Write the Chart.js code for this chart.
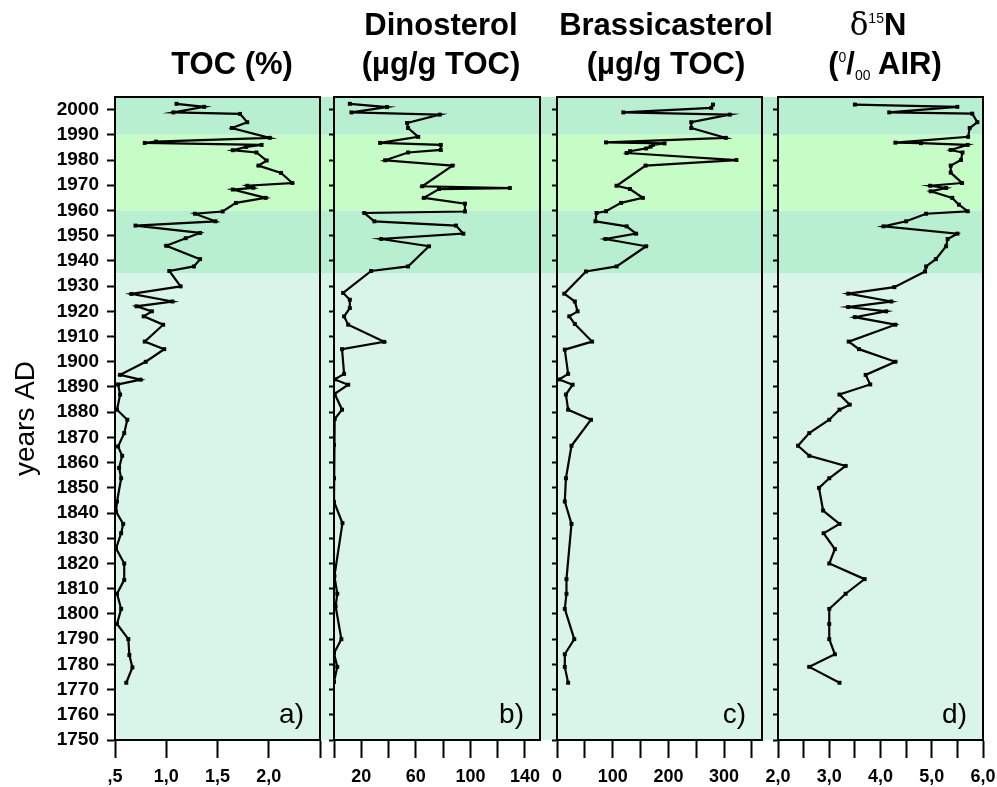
<!DOCTYPE html>
<html><head><meta charset="utf-8">
<script src="https://cdn.jsdelivr.net/npm/chart.js@4.4.1/dist/chart.umd.min.js"></script>
<style>
html,body{margin:0;padding:0;background:#fff;overflow:hidden;width:997px;height:787px;position:relative}
canvas{position:absolute;top:0}
.t{position:absolute;font-family:'Liberation Sans',Arial,sans-serif;font-weight:bold;font-size:31px;line-height:31px;white-space:nowrap;transform:translateX(-50%);color:#000}
.t sup,.t sub{font-size:14px;font-weight:normal;line-height:0}
</style></head><body>
<canvas id="ca" width="334" height="787" style="left:0"></canvas>
<canvas id="cb" width="240" height="787" style="left:320px"></canvas>
<canvas id="cc" width="242" height="787" style="left:540px"></canvas>
<canvas id="cd" width="235" height="787" style="left:762px"></canvas>
<div class="t" style="left:232px;top:48px">TOC (%)</div>
<div class="t" style="left:441px;top:9px">Dinosterol</div>
<div class="t" style="left:441px;top:48px">(µg/g TOC)</div>
<div class="t" style="left:666px;top:9px">Brassicasterol</div>
<div class="t" style="left:666px;top:48px">(µg/g TOC)</div>
<div class="t" style="left:878px;top:9px"><span style="font-family:'DejaVu Serif',serif;font-weight:normal">δ</span><sup style="vertical-align:12px">15</sup>N</div>
<div class="t" style="left:885px;top:48px">(<sup style="vertical-align:12px">0</sup>/<sub style="vertical-align:-6px">00</sub> AIR)</div>
<script>
// ---- data ----
const tocYears = [2002.3,2001.1,1998.9,1998.3,1995,1992.7,1988.8,1987.3,1986.8,1986,1985.2,1983.9,1983,1979.8,1977.8,1974.9,1970.9,1969.8,1969,1968.3,1965,1963,1959.6,1958.7,1955.7,1954,1951.1,1949,1946,1940.7,1937.8,1936,1929.9,1926.9,1923.9,1922,1920,1918,1914.7,1908,1905,1900,1894.8,1892.9,1891,1887,1881,1877,1871.7,1866.4,1862.7,1857.9,1853.8,1844.6,1840.6,1835.7,1832,1826,1820,1813.5,1808,1802,1796,1790,1783.7,1778.8,1772.7];
const tocValues = [1.10,1.37,1.07,1.72,1.79,1.64,2.01,0.90,0.79,1.93,1.78,1.65,1.88,1.98,1.90,2.12,2.23,1.79,1.85,1.65,1.97,1.68,1.55,1.28,1.48,0.70,1.33,1.19,1.00,1.33,1.27,1.03,1.14,0.66,1.06,0.71,0.86,0.78,0.97,0.79,0.98,0.80,0.55,0.75,0.53,0.55,0.52,0.62,0.59,0.53,0.57,0.54,0.56,0.52,0.51,0.58,0.56,0.51,0.59,0.59,0.52,0.56,0.52,0.63,0.64,0.67,0.61];

const dinoYears = [2002.3,2001,1998.9,1998,1994.7,1992.7,1989.2,1986.8,1986,1984,1983,1979.9,1977.8,1969.6,1968.9,1968.5,1965,1962.7,1959.6,1959,1955.7,1954,1950.8,1948.7,1945.8,1937.8,1936,1927.3,1924.6,1921.3,1918,1914.7,1907.9,1905,1895.2,1893,1890.9,1887.3,1881,1877.3,1867,1853.8,1844.5,1836,1815,1808,1803,1790,1784.4,1779,1773];
const dinoValues = [11.6,38.8,12.8,77.5,53.6,54.3,61.7,33.8,78.3,78.3,54.3,37.5,86.9,64.7,128.9,77,65.9,96,96,22.2,29.6,89.4,94.8,34.6,69.6,54.3,27.2,6.7,11.6,11.6,7.4,10.4,36.8,5.9,7.4,0.5,10.4,0.5,5.9,0.5,0,0,0,6.2,0.3,2.4,1.2,5.4,0,2.4,0];

const brasYears = [2002,2000.7,1998.9,1998,1995,1992.7,1988.8,1987,1986.6,1986,1985.3,1984.6,1983.5,1982.8,1980,1977.8,1969.8,1968.5,1965,1963,1959.7,1959,1955.7,1953.7,1950.8,1948.7,1945.8,1937.8,1935.8,1927,1923.9,1920,1918,1915,1908,1904.8,1895.2,1893,1890.9,1887,1881,1877,1866.7,1853.8,1844.6,1835.7,1813.8,1808,1802,1790,1784,1779,1772.7];
const brasValues = [280,277,119,310,241,241,303,88,193,172,168,160,131,125,322,159,107,131,154,115,88,71,69,125,142,87,160,107,52,13,32,37,22,32,63,14,20,4,28,16,20,61,26,16,14,26,17,17,14,31,14,14,20];

const d15nYears = [2002,2001.1,1998.9,1998.4,1995,1992.7,1989.2,1986.9,1986.7,1986,1984,1983,1980,1977.8,1975,1970.9,1969.8,1968.9,1967.6,1965,1962.3,1959.7,1958.7,1955.7,1953.7,1950.8,1948.7,1945.8,1940.7,1937.8,1935.8,1929.6,1927,1923.9,1921.7,1920,1917.7,1914.7,1908,1905,1900,1894.8,1891,1887,1883,1881,1877,1871.7,1866.7,1862.7,1858.7,1853.8,1850,1841,1835.7,1832,1825.7,1820,1813.8,1808,1802,1796,1790,1784,1779,1772.7];
const d15nValues = [3.50,5.50,4.17,5.79,5.89,5.74,5.71,4.29,4.79,5.70,5.37,5.60,5.57,5.37,5.37,5.59,4.97,5.28,4.98,5.40,5.53,5.70,4.89,4.50,4.06,5.50,5.31,5.28,5.08,4.89,4.87,4.27,3.37,4.21,3.37,4.11,3.50,4.29,3.38,3.58,4.29,3.71,3.80,3.20,3.40,3.20,3.00,2.61,2.39,2.61,3.32,3.00,2.80,2.88,3.20,2.89,3.11,3.00,3.69,3.32,3.00,3.00,3.00,3.11,2.61,3.20];

// tick labels
const tocTickLabels  = [',5','1,0','1,5','2,0',''];
const dinoTickLabels = ['','20','','60','','100','','140'];
const brasTickLabels = ['0','','100','','200','','300',''];
const d15nTickLabels = ['2,0','','3,0','','4,0','','5,0','','6,0'];

// background periods (years)
const bandTop    = [2005,1990,1960,1935];
const bandBottom = [1990,1960,1935,1750];
const bandColors = ['#b9efd1','#c6fcc5','#b9efd1','#d9f5ea'];

const FONT = "'Liberation Sans', Arial, sans-serif";

const panelPlugin = {
  id: 'panel',
  beforeDraw(chart, args, o) {
    const {ctx, chartArea: a, scales: {y}} = chart;
    const left = a.left - o.gap;
    ctx.save();
    for (let i = 0; i < bandTop.length; i++) {
      const t = y.getPixelForValue(bandTop[i]);
      const b = y.getPixelForValue(bandBottom[i]);
      ctx.fillStyle = bandColors[i];
      ctx.fillRect(left, t, a.right - left, b - t);
    }
    ctx.restore();
  },
  afterDraw(chart, args, o) {
    const {ctx, chartArea: a} = chart;
    ctx.save();
    ctx.strokeStyle = '#000';
    ctx.lineWidth = 2;
    ctx.strokeRect(a.left, a.top, a.right - a.left, a.bottom - a.top);
    ctx.fillStyle = '#000';
    ctx.font = '28px ' + FONT;
    ctx.textAlign = 'right';
    ctx.textBaseline = 'alphabetic';
    ctx.fillText(o.label, a.right - 16, a.bottom - 17);
    ctx.restore();
  }
};

function makePanel(id, xs, ys, cfg) {
  return new Chart(document.getElementById(id), {
    type: 'scatter',
    data: { datasets: [{
      data: xs.map((v, i) => ({x: v, y: ys[i]})),
      showLine: true, borderColor: '#000', borderWidth: 2.2, tension: 0,
      pointStyle: 'rect', pointRadius: 2.8, pointBackgroundColor: '#000', pointBorderWidth: 0
    }]},
    options: {
      responsive: false, animation: false, events: [],
      layout: { autoPadding: false, padding: {left: 0, right: cfg.padR, top: 97, bottom: 0} },
      plugins: { legend: {display: false}, tooltip: {enabled: false}, panel: {gap: cfg.gap, label: cfg.label} },
      scales: {
        x: {
          type: 'linear', position: 'bottom', min: cfg.min, max: cfg.max,
          ticks: { stepSize: cfg.step, autoSkip: false, includeBounds: false, maxRotation: 0, color: '#000', padding: 8,
                   font: {family: FONT, size: 18, weight: 'bold'},
                   callback: (v, i) => cfg.labels[i] ?? '' },
          grid: { drawOnChartArea: false, drawTicks: true, tickLength: 18, tickColor: '#000', tickWidth: 2 },
          border: { display: true, color: '#000', width: 2 },
          afterFit(s) { s.height = 47; s.paddingLeft = 0; s.paddingRight = 0; }
        },
        y: {
          type: 'linear', position: 'left', min: 1750, max: 2005,
          ticks: { stepSize: 10, autoSkip: false, includeBounds: false, color: '#000', padding: 8,
                   font: {family: FONT, size: 19, weight: 'bold'},
                   callback: v => cfg.yLabels ? String(v) : '' },
          grid: { drawOnChartArea: false, drawTicks: true, tickLength: cfg.yTick, tickColor: '#000', tickWidth: 2 },
          border: { display: true, color: '#000', width: 2 },
          title: cfg.yLabels ? { display: true, text: 'years AD', color: '#000', font: {family: FONT, size: 28}, padding: {top: 9, bottom: 0} } : {display: false},
          afterFit(s) { s.width = cfg.yWidth; s.paddingTop = 0; s.paddingBottom = 0; }
        }
      }
    },
    plugins: [panelPlugin]
  });
}

makePanel('ca', tocValues, tocYears, {min: 0.5, max: 2.5, step: 0.5, labels: tocTickLabels, padR: 14, yWidth: 115, gap: 0, yTick: 8, yLabels: true, label: 'a)'});
makePanel('cb', dinoValues, dinoYears, {min: 0, max: 151, step: 20, labels: dinoTickLabels, padR: 20, yWidth: 14, gap: 13, yTick: 5, yLabels: false, label: 'b)'});
makePanel('cc', brasValues, brasYears, {min: 0, max: 368, step: 50, labels: brasTickLabels, padR: 20, yWidth: 17, gap: 16, yTick: 5, yLabels: false, label: 'c)'});
makePanel('cd', d15nValues, d15nYears, {min: 2, max: 6, step: 0.5, labels: d15nTickLabels, padR: 14, yWidth: 16, gap: 15, yTick: 5, yLabels: false, label: 'd)'});
</script>
</body></html>
